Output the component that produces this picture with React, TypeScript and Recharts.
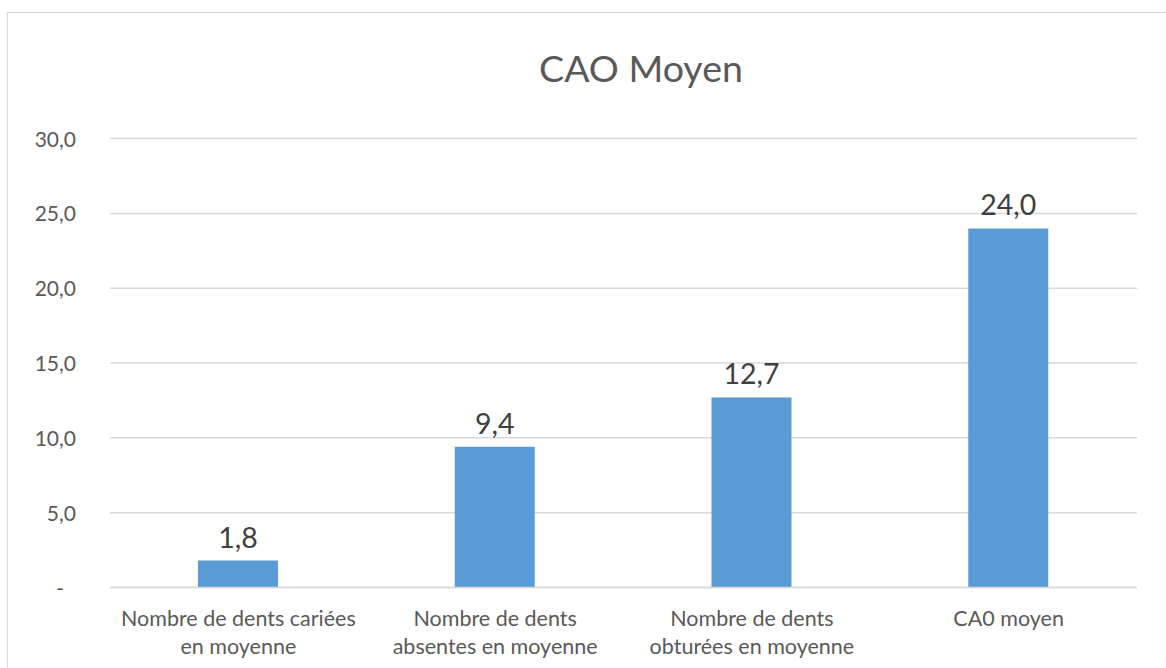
import React from "react";
import { BarChart, Bar, XAxis, YAxis, CartesianGrid, LabelList } from "recharts";

const categories = [
  "Nombre de dents cariées\nen moyenne",
  "Nombre de dents\nabsentes en moyenne",
  "Nombre de dents\nobturées en moyenne",
  "CA0 moyen",
];
const values = [1.8, 9.4, 12.7, 24.0];
const yTicks = [0, 5, 10, 15, 20, 25, 30];
const title = "CAO Moyen";

const data = categories.map((c, i) => ({ name: c, value: values[i] }));

const FONT = "Lato, 'Open Sans', sans-serif";
const fmt = (v: number) => (v === 0 ? "-" : v.toFixed(1).replace(".", ","));

const YTick = (props: any) => {
  const { y, payload } = props;
  const isZero = payload.value === 0;
  return (
    <text
      x={isZero ? 64 : 76}
      y={y}
      dy={8}
      textAnchor="end"
      fill="#595959"
      fontSize={21}
      fontFamily={FONT}
    >
      {fmt(payload.value)}
    </text>
  );
};

const XTick = (props: any) => {
  const { x, y, payload } = props;
  const lines = String(payload.value).split("\n");
  return (
    <text x={x} y={y} textAnchor="middle" fill="#595959" fontSize={21.5} fontFamily={FONT}>
      {lines.map((l, i) => (
        <tspan key={i} x={x} dy={i === 0 ? 30 : 28}>
          {l}
        </tspan>
      ))}
    </text>
  );
};

export default function App() {
  return (
    <div style={{ position: "absolute", left: 0, top: 0, width: 1166, height: 668, overflow: "hidden", background: "#fff" }}>
      <div
        style={{
          position: "absolute",
          left: 7,
          top: 12,
          width: 1300,
          height: 800,
          border: "1px solid #D9D9D9",
          boxSizing: "border-box",
        }}
      />
      <div style={{ position: "absolute", left: 0, top: 0 }}>
        <BarChart
          width={1166}
          height={668}
          data={data}
          margin={{ top: 138.6, left: 30, right: 29, bottom: 0 }}
          barCategoryGap={88}
        >
          <text x={641} y={82} textAnchor="middle" fill="#595959" fontSize={37.5} fontFamily={FONT}>
            {title}
          </text>
          <CartesianGrid vertical={false} stroke="#D9D9D9" strokeWidth={1.5} />
          <XAxis
            dataKey="name"
            axisLine={{ stroke: "#D9D9D9", strokeWidth: 1.5 }}
            tickLine={false}
            tick={<XTick />}
            interval={0}
            height={80.5}
          />
          <YAxis
            width={80}
            domain={[0, 30]}
            ticks={yTicks}
            axisLine={false}
            tickLine={false}
            tick={<YTick />}
          />
          <Bar dataKey="value" fill="#5B9BD5" isAnimationActive={false} barSize={80}>
            <LabelList
              dataKey="value"
              position="top"
              offset={13}
              formatter={(v: any) => fmt(Number(v))}
              fill="#404040"
              fontSize={28.5}
              fontFamily={FONT}
            />
          </Bar>
        </BarChart>
      </div>
    </div>
  );
}
